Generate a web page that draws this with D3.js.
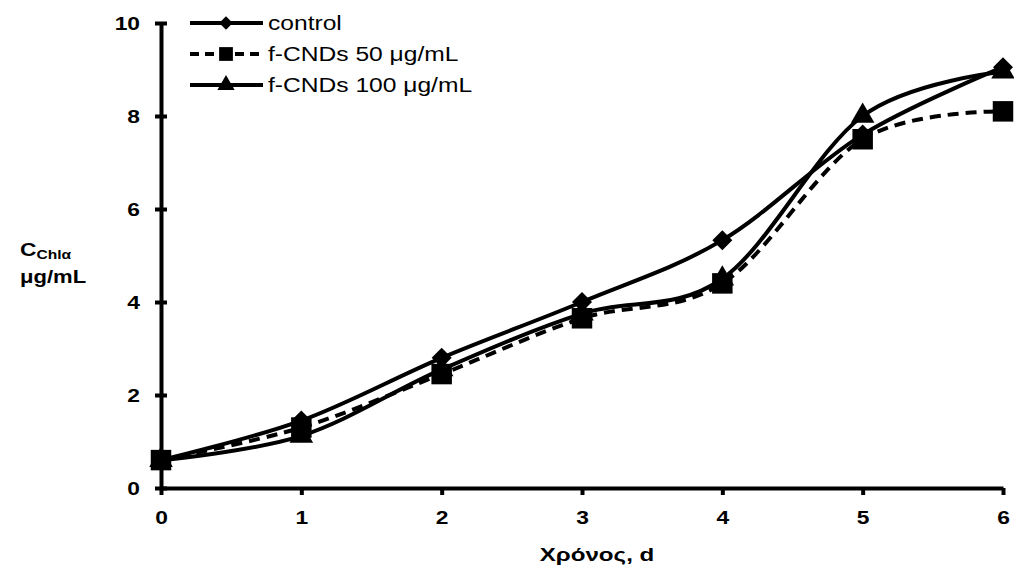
<!DOCTYPE html>
<html>
<head>
<meta charset="utf-8">
<script src="https://cdn.jsdelivr.net/npm/d3@7"></script>
<style>
  html, body { margin: 0; padding: 0; background: #fff; }
  svg { display: block; font-family: "Liberation Sans", Arial, sans-serif; }
</style>
</head>
<body>
<svg id="chart" width="1014" height="578"></svg>
<script>
// Days of cultivation
const days = [0, 1, 2, 3, 4, 5, 6];
// Chlorophyll a concentration, μg/mL
const controlValues = [0.6, 1.45, 2.8, 4.0, 5.33, 7.6, 9.05];
const cnd50Values   = [0.6, 1.3, 2.45, 3.65, 4.4, 7.5, 8.1];
const cnd100Values  = [0.6, 1.12, 2.55, 3.75, 4.5, 8.0, 8.95];
const seriesNames = ["control", "f-CNDs 50 μg/mL", "f-CNDs 100 μg/mL"];
const yTicks = [0, 2, 4, 6, 8, 10];

// Square turned by 45°, drawn as a diamond marker
const diamond = {
  draw(ctx, size) {
    const r = Math.sqrt(size / 2);
    ctx.moveTo(0, -r); ctx.lineTo(r, 0); ctx.lineTo(0, r); ctx.lineTo(-r, 0); ctx.closePath();
  }
};

const series = [
  { name: seriesNames[0], values: controlValues, symbol: diamond,           size: 200, legendSize: 90,  dash: null },
  { name: seriesNames[1], values: cnd50Values,   symbol: d3.symbolSquare,   size: 420, legendSize: 190, dash: "11,7" },
  { name: seriesNames[2], values: cnd100Values,  symbol: d3.symbolTriangle, size: 240, legendSize: 130, dash: null }
];

const SX = 1.2; // horizontal stretch of the lettering

const svg = d3.select("#chart");
const x = d3.scaleLinear().domain([0, 6]).range([161, 1003]);
const y = d3.scaleLinear().domain([0, 10]).range([488, 23]);

// Axes
const xAxis = svg.append("g").attr("transform", `translate(0,${y(0)})`)
  .call(d3.axisBottom(x).tickValues(days).tickFormat(d3.format("d")).tickSize(7).tickSizeOuter(0));
const yAxis = svg.append("g").attr("transform", `translate(${x(0)},0)`)
  .call(d3.axisLeft(y).tickValues(yTicks).tickFormat(d3.format("d")).tickSize(6).tickSizeOuter(0));

[xAxis, yAxis].forEach(g => {
  g.select(".domain").attr("stroke", "#000").attr("stroke-width", 4);
  g.selectAll(".tick line").attr("stroke", "#000").attr("stroke-width", 4);
  g.selectAll(".tick text").attr("fill", "#000").attr("font-size", 19).attr("font-weight", "bold")
    .attr("font-family", "'Liberation Sans', Arial, sans-serif")
    .attr("transform", `scale(${SX},1)`);
});
xAxis.selectAll(".tick text").attr("y", 36).attr("dy", 0);
yAxis.selectAll(".tick text").attr("x", -21 / SX).attr("dy", "0.36em");
// y ticks cross the axis line
yAxis.selectAll(".tick line").attr("x1", 6);

// Smoothed curves
const line = d3.line()
  .x((d, i) => x(days[i]))
  .y(d => y(d))
  .curve(d3.curveCatmullRom.alpha(0));

const plot = svg.append("g");
series.forEach(s => {
  plot.append("path")
    .attr("d", line(s.values))
    .attr("fill", "none")
    .attr("stroke", "#000")
    .attr("stroke-width", 4)
    .attr("stroke-dasharray", s.dash);
});
series.forEach(s => {
  plot.selectAll(null).data(s.values).enter().append("path")
    .attr("d", d3.symbol().type(s.symbol).size(s.size))
    .attr("transform", (d, i) => `translate(${x(days[i])},${y(d)})`)
    .attr("fill", "#000");
});

// Stretched text placed at an anchor point
function label(px, py, str, opts) {
  const g = svg.append("g").attr("transform", `translate(${px},${py}) scale(${opts.sx || SX},1)`);
  return g.append("text")
    .attr("text-anchor", opts.anchor || "start")
    .attr("font-size", opts.size)
    .attr("font-weight", opts.weight || "normal")
    .attr("fill", "#000")
    .text(str);
}

// Legend
const legendRows = [23, 54, 85];
series.forEach((s, i) => {
  const g = svg.append("g").attr("transform", `translate(190,${legendRows[i]})`);
  g.append("line").attr("x1", 0).attr("x2", 73).attr("y1", 0).attr("y2", 0)
    .attr("stroke", "#000").attr("stroke-width", 4).attr("stroke-dasharray", s.dash ? "9,6" : null);
  g.append("path").attr("d", d3.symbol().type(s.symbol).size(s.legendSize))
    .attr("transform", "translate(36,0)").attr("fill", "#000");
  label(268, legendRows[i] + 7, s.name, { size: 20, sx: 1.23 });
});

// Axis titles
label(597, 561, "Χρόνος, d", { size: 19, weight: "bold", anchor: "middle", sx: 1.27 });

const yTitle = label(20, 256, "C", { size: 19, weight: "bold" });
yTitle.append("tspan").attr("font-size", 13).attr("dy", 3).text("Chlα");
label(20, 283, "μg/mL", { size: 19, weight: "bold", sx: 1.16 });
</script>
</body>
</html>
